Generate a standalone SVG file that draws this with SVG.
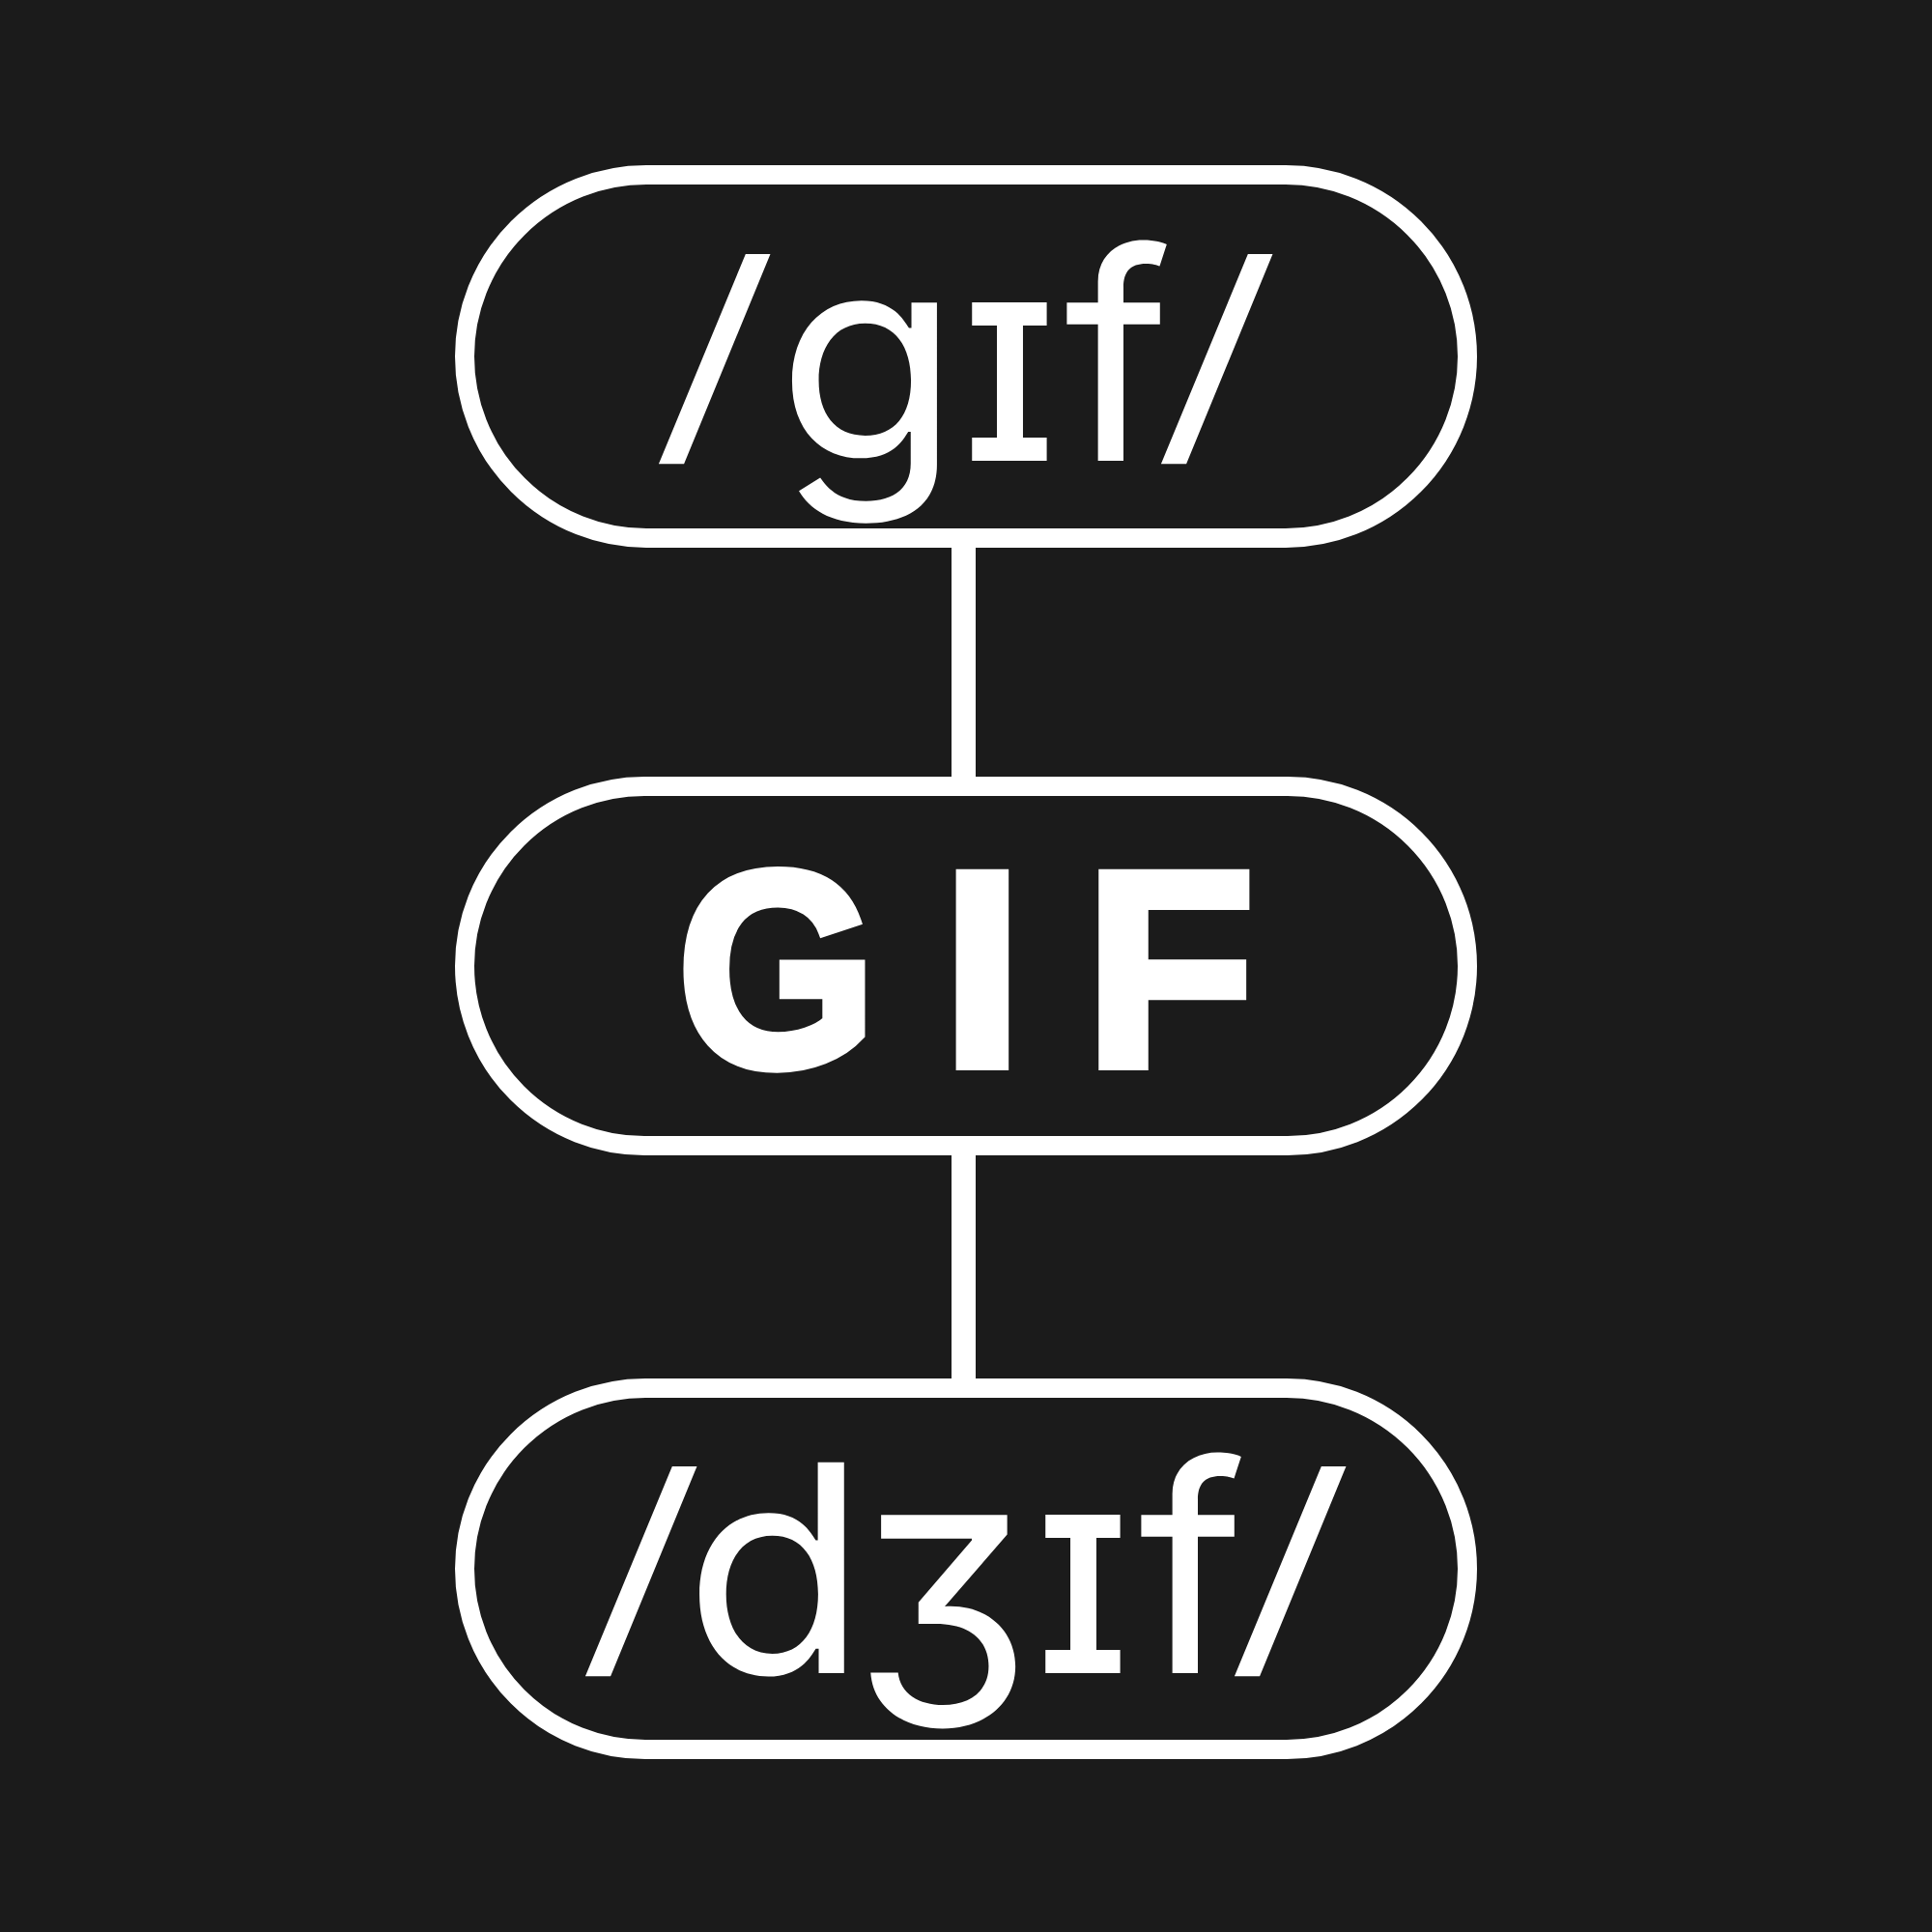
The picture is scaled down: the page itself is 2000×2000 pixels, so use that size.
<svg xmlns="http://www.w3.org/2000/svg" width="2000" height="2000" viewBox="0 0 2000 2000">
<style>
.pill{fill:#1b1b1b;stroke:#ffffff;stroke-width:20}
.conn{stroke:#ffffff;stroke-width:25;fill:none}
.ipa{font-family:Inter,"DejaVu Sans",sans-serif;font-size:300px;fill:#ffffff;text-anchor:middle}
.sl{font-family:"Liberation Sans",Arial,sans-serif;font-size:292px;fill:#ffffff;stroke:#ffffff;stroke-width:3;text-anchor:middle}
.big{font-family:"Liberation Sans",Arial,sans-serif;font-weight:bold;font-size:288px;fill:#ffffff;stroke:#ffffff;stroke-width:10;stroke-linejoin:miter}
</style>
<rect width="2000" height="2000" fill="#1b1b1b"/>
<g id="connectors">
<line class="conn" x1="997.5" y1="557" x2="997.5" y2="814"/>
<line class="conn" x1="997.5" y1="1186" x2="997.5" y2="1437"/>
</g>
<g id="node-gif-ipa">
<rect class="pill" x="481" y="181" width="1038" height="376" rx="188" ry="188"/>
<text class="sl" transform="translate(740,476) skewX(-8)"><tspan x="-15" y="0">/</tspan></text>
<text class="ipa" transform="translate(899,477) scale(1.03,1)" x="0" y="0">ɡ</text>
<text class="ipa" x="1045" y="477">ɪ</text>
<text class="ipa" x="1157" y="477">f</text>
<text class="sl" transform="translate(1260,476) skewX(-8)"><tspan x="-15" y="0">/</tspan></text>
</g>
<g id="node-GIF">
<rect class="pill" x="481" y="814" width="1038" height="372" rx="186" ry="186"/>
<text class="big" transform="translate(708,1103) scale(0.92,1)" x="-7.4" y="0">G</text>
<text class="big" transform="translate(991,1103) scale(1.06,1)" x="-15.6" y="0">I</text>
<text class="big" x="1123" y="1103">F</text>
</g>
<g id="node-jif-ipa">
<rect class="pill" x="481" y="1437" width="1038" height="374" rx="187" ry="187"/>
<text class="sl" transform="translate(664,1731) skewX(-8)"><tspan x="-15" y="0">/</tspan></text>
<text class="ipa" transform="translate(803,1732) scale(1.03,1)" x="0" y="0">d</text>
<text class="ipa" x="976" y="1732">ʒ</text>
<text class="ipa" x="1121" y="1732">ɪ</text>
<text class="ipa" x="1234" y="1732">f</text>
<text class="sl" transform="translate(1336,1731) skewX(-8)"><tspan x="-15" y="0">/</tspan></text>
</g>
</svg>
